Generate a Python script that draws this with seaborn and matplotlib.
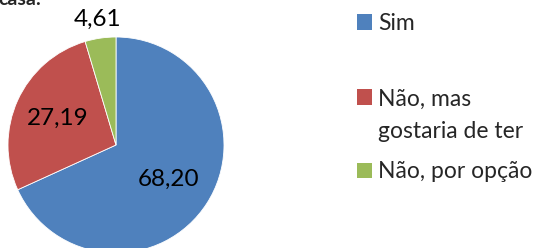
import numpy as np
import matplotlib.pyplot as plt
from matplotlib.patches import Rectangle
import seaborn as sns

# ── Data ─────────────────────────────────────────────────────────────────────
categories = ['Sim', 'Não, mas\ngostaria de ter', 'Não, por opção']
values = [68.20, 27.19, 4.61]
colors = ['#4F81BD', '#C0504D', '#9BBB59']

# ── Style ────────────────────────────────────────────────────────────────────
sns.set_theme(style='white')
plt.rcParams['font.family'] = ['Lato', 'DejaVu Sans']
palette = sns.color_palette(colors)

W, H = 545, 248
fig = plt.figure(figsize=(W / 100, H / 100), dpi=100)

# pie centre (116,145) px from top-left, radius 108 px
cx, cy, r = 116, 145, 108
ax = fig.add_axes([(cx - r) / W, (H - cy - r) / H, 2 * r / W, 2 * r / H])
wedges, _ = ax.pie(values, colors=palette, startangle=90, counterclock=False,
                   wedgeprops=dict(edgecolor='white', linewidth=0.6))
ax.set_xlim(-1, 1)
ax.set_ylim(-1, 1)
ax.set_aspect('equal')

# data labels
label_dist = [0.58, 0.59, 1.18]
for w, v, d in zip(wedges, values, label_dist):
    ang = np.deg2rad((w.theta1 + w.theta2) / 2)
    ax.text(d * np.cos(ang), d * np.sin(ang), f'{v:.2f}'.replace('.', ','),
            ha='center', va='center', fontsize=17.5, color='black', clip_on=False)

# title, cut off by the top edge as in the original
fig.text(-2 / W, 1 - 5 / H, 'casa:', fontsize=14, fontweight='bold',
         ha='left', va='baseline')

# legend (Excel style: box aligned with first text line)
legend_y = [22, 97, 170]
for cat, col, yy in zip(categories, palette, legend_y):
    fig.patches.append(Rectangle((357 / W, (H - yy - 7.5) / H), 15 / W, 15 / H,
                                 transform=fig.transFigure, facecolor=col,
                                 edgecolor='none'))
    for i, ln in enumerate(cat.split('\n')):
        fig.text(378 / W, (H - yy - 33 * i) / H, ln, fontsize=16.5,
                 ha='left', va='center_baseline')

fig.savefig('out.png', dpi=100)
